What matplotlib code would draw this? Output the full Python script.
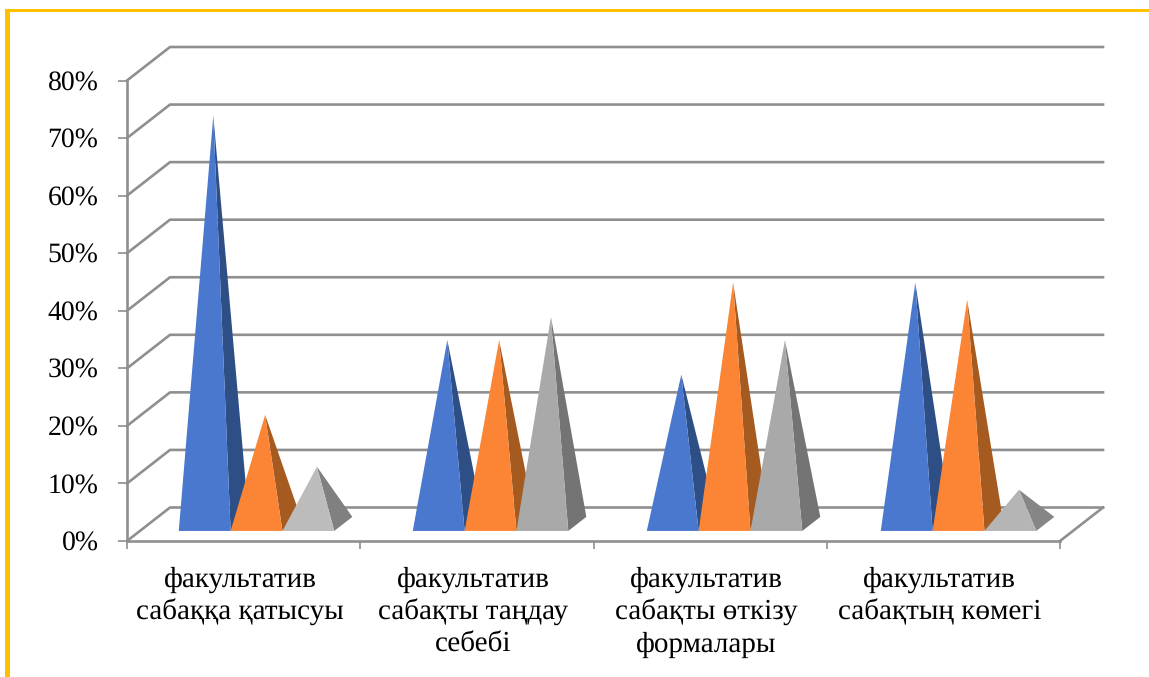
import matplotlib
matplotlib.use("Agg")
import matplotlib.pyplot as plt
from matplotlib.patches import Polygon, Rectangle

plt.rcParams["font.family"] = ["Liberation Serif", "DejaVu Serif"]
plt.rcParams["text.hinting"] = "no_hinting"

categories = [
    "факультатив\nсабаққа қатысуы",
    "факультатив\nсабақты таңдау\nсебебі",
    "факультатив\nсабақты өткізу\nформалары",
    "факультатив\nсабақтың көмегі",
]
series_1 = [71, 32, 26, 42]
series_2 = [19, 32, 42, 39]
series_3 = [10, 36, 32, 6]
y_ticks = [0, 10, 20, 30, 40, 50, 60, 70, 80]
y_labels = ["0%", "10%", "20%", "30%", "40%", "50%", "60%", "70%", "80%"]

blue = ("#4a78cf", "#2d4f86")
orange = ("#fb8535", "#a55a20")
gray_front = ["#bcbcbc", "#a9a9a9", "#a9a9a9", "#b5b5b5"]
gray_side = ["#808080", "#747474", "#747474", "#868686"]
grid_color = "#8f8f8f"

W, H = 1149, 677
top_px = 80.5
# depth of the 3d box, in data units
depth_x = 43 / (933 / 4)
depth_y = 33.5 / ((541 - top_px) / 80)
bar_w = 1 / 4.5
gap = (1 - 3 * bar_w) / 2
group_step = 234 / 233.25


def project(x, v, d):
    return (x + d * depth_x, v + d * depth_y)


def draw_pyramid(ax, left, value, front, side):
    d0, d1 = 0.30, 0.72
    fl = project(left, 0, d0)
    fr = project(left + bar_w, 0, d0)
    br = project(left + bar_w, 0, d1)
    top = project(left + bar_w / 2, value, 0.5)
    ax.add_patch(Polygon([fr, br, top], closed=True, fc=side, ec="none", zorder=3, clip_on=False))
    ax.add_patch(Polygon([fl, fr, top], closed=True, fc=front, ec="none", zorder=3, clip_on=False))


fig = plt.figure(figsize=(W / 100, H / 100), dpi=100)
fig.patches.append(Rectangle((5 / W, 0), 5 / W, 1 - 9 / H, transform=fig.transFigure, fc="#ffc000", ec="none"))
fig.patches.append(Rectangle((5 / W, 1 - 12 / H), 1, 3 / H, transform=fig.transFigure, fc="#ffc000", ec="none"))

ax = fig.add_axes([127 / W, 1 - 541 / H, 933 / W, (541 - top_px) / H])
ax.patch.set_alpha(0)
ax.set_xlim(0, 4)
ax.set_ylim(0, 80)

for v in y_ticks:
    a = project(0, v, 0)
    b = project(0, v, 1)
    c = project(4, v, 1)
    ax.plot([a[0], b[0], c[0]], [a[1], b[1], c[1]], color=grid_color, lw=1.9, clip_on=False, zorder=1)
a = project(4, 0, 0)
b = project(4, 0, 1)
ax.plot([a[0], b[0]], [a[1], b[1]], color=grid_color, lw=1.9, clip_on=False, zorder=1)

for i in range(len(categories)):
    left = i * group_step + gap
    draw_pyramid(ax, left, series_1[i], blue[0], blue[1])
    draw_pyramid(ax, left + bar_w, series_2[i], orange[0], orange[1])
    draw_pyramid(ax, left + 2 * bar_w, series_3[i], gray_front[i], gray_side[i])

for name in ["top", "right"]:
    ax.spines[name].set_visible(False)
for name in ["left", "bottom"]:
    ax.spines[name].set_color(grid_color)
    ax.spines[name].set_linewidth(1.9)

ax.set_yticks(y_ticks)
ax.set_yticklabels(y_labels, fontsize=20, color="black")
ax.tick_params(axis="y", length=6.5, width=1.2, color=grid_color, pad=14)
ax.set_xticks([0, 1, 2, 3, 4])
ax.set_xticklabels([])
ax.tick_params(axis="x", which="major", length=6, width=1.2, color=grid_color)
ax.set_xticks([i + 0.485 for i in range(4)], minor=True)
ax.set_xticklabels(categories, minor=True, fontsize=21, color="black", linespacing=1.28)
ax.tick_params(axis="x", which="minor", length=0, pad=18.5)

fig.savefig("out.png", dpi=100)
